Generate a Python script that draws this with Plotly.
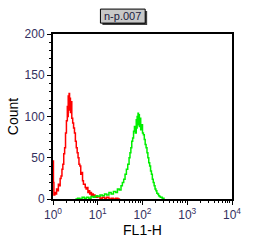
import numpy as np
import plotly.graph_objects as go

# Red histogram (log10 FL1-H position, count)
red_log = [0.00, 0.01, 0.02, 0.04, 0.06, 0.08, 0.10, 0.12, 0.14, 0.16, 0.18, 0.20, 0.22, 0.24,
           0.26, 0.28, 0.30, 0.32, 0.33, 0.34, 0.35, 0.36, 0.37, 0.38, 0.39, 0.40, 0.42, 0.44,
           0.46, 0.48, 0.50, 0.52, 0.54, 0.56, 0.58, 0.60, 0.62, 0.64, 0.66, 0.68, 0.70, 0.72,
           0.74, 0.76, 0.78, 0.80, 0.82, 0.84, 0.86, 0.88, 0.90, 0.92, 0.94, 0.96, 0.98, 1.00,
           1.05, 1.10, 1.15, 1.20, 1.25, 1.30, 1.35, 1.40, 1.45, 1.50]
red_count = [46, 20, 5, 8, 6, 12, 10, 18, 16, 25, 28, 36, 42, 55,
             62, 80, 95, 112, 100, 125, 108, 128, 112, 122, 105, 118, 98, 92,
             86, 80, 70, 62, 56, 50, 42, 40, 30, 32, 22, 18, 18, 14,
             12, 14, 8, 10, 6, 8, 4, 6, 3, 5, 2, 4, 2, 3,
             1, 2, 1, 2, 0, 1, 0, 1, 0, 0]

# Green histogram
green_log = [0.50, 0.55, 0.60, 0.65, 0.70, 0.75, 0.80, 0.85, 0.90, 0.95, 1.00, 1.05, 1.10, 1.15,
             1.20, 1.25, 1.30, 1.35, 1.40, 1.44, 1.48, 1.52, 1.55, 1.58, 1.61, 1.64, 1.67, 1.70,
             1.72, 1.74, 1.76, 1.78, 1.80, 1.82, 1.84, 1.86, 1.87, 1.88, 1.89, 1.90, 1.91, 1.92,
             1.93, 1.94, 1.96, 1.98, 2.00, 2.02, 2.04, 2.06, 2.08, 2.10, 2.12, 2.14, 2.16, 2.18,
             2.20, 2.22, 2.24, 2.26, 2.28, 2.30, 2.32, 2.34, 2.36, 2.38, 2.40, 2.44, 2.48]
green_count = [0, 1, 0, 2, 1, 2, 1, 3, 2, 4, 3, 5, 4, 6,
               5, 8, 6, 9, 8, 12, 11, 16, 20, 24, 30, 36, 42, 50,
               56, 62, 70, 74, 82, 88, 80, 96, 86, 100, 90, 104, 92, 102,
               88, 98, 84, 90, 80, 78, 72, 66, 62, 56, 50, 44, 40, 34,
               30, 24, 20, 16, 12, 10, 7, 6, 4, 3, 2, 1, 0]

x_ticks = [1, 10, 100, 1000, 10000]
x_ticktext = ["10<sup>0</sup>", "10<sup>1</sup>", "10<sup>2</sup>", "10<sup>3</sup>", "10<sup>4</sup>"]
y_ticks = [0, 50, 100, 150, 200]
title_text = "n-p.007"

fig = go.Figure()
fig.add_trace(go.Scatter(x=10 ** np.array(red_log), y=red_count, mode="lines",
                         line=dict(color="#ff0000", width=1.5, shape="hv"), showlegend=False))
fig.add_trace(go.Scatter(x=10 ** np.array(green_log), y=green_count, mode="lines",
                         line=dict(color="#00ee00", width=1.5, shape="hv"), showlegend=False))

minor_x = [m * 10 ** d for d in range(4) for m in range(2, 10)]
tick_font = dict(family="Liberation Sans, Arial", size=12, color="#34305e")
title_font = dict(family="Liberation Sans, Arial", size=14, color="black")

fig.update_layout(
    width=253, height=246,
    margin=dict(l=45, r=12, t=34, b=46),
    paper_bgcolor="white", plot_bgcolor="white",
    xaxis=dict(type="log", range=[0, 4], tickvals=x_ticks, ticktext=x_ticktext,
               ticks="outside", ticklen=4, tickcolor="black", tickwidth=1,
               showline=True, linecolor="black", linewidth=2, mirror=True,
               showgrid=False, zeroline=False, tickfont=tick_font,
               minor=dict(tickvals=minor_x, ticks="outside", ticklen=2, tickcolor="black", showgrid=False),
               title=dict(text="FL1-H", font=title_font, standoff=2)),
    yaxis=dict(range=[0, 200], tickvals=y_ticks,
               ticks="outside", ticklen=4, tickcolor="black", tickwidth=1,
               showline=True, linecolor="black", linewidth=2, mirror=True,
               showgrid=False, zeroline=False, tickfont=tick_font,
               minor=dict(dtick=10, ticks="outside", ticklen=2, tickcolor="black", showgrid=False),
               title=dict(text="Count", font=title_font, standoff=3)),
)

# title box with shadow
fig.add_shape(type="rect", xref="paper", yref="paper", x0=0.276, x1=0.526, y0=1.054, y1=1.139,
              fillcolor="#404040", line=dict(width=0), layer="above")
fig.add_shape(type="rect", xref="paper", yref="paper", x0=0.265, x1=0.515, y0=1.066, y1=1.151,
              fillcolor="#c8c8c8", line=dict(color="black", width=1), layer="above")
fig.add_annotation(xref="paper", yref="paper", x=0.39, y=1.108, text=title_text, showarrow=False,
                   font=dict(family="Liberation Sans, Arial", size=11, color="#1a1a40"),
                   xanchor="center", yanchor="middle")

fig.write_html("out.html")
